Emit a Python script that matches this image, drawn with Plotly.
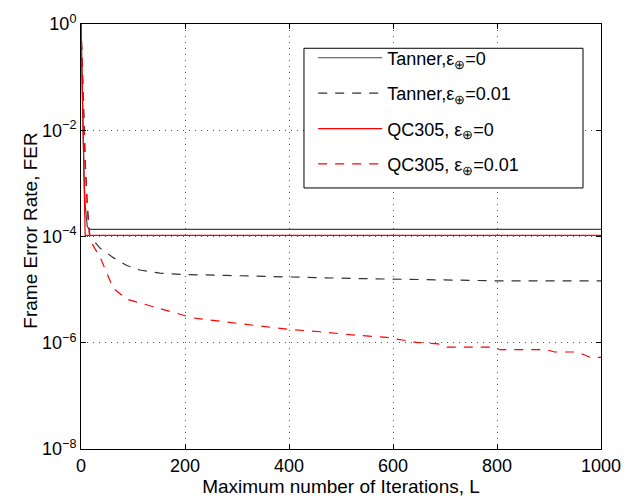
import plotly.graph_objects as go

# Frame error rate versus maximum number of decoding iterations
tanner_0_L = [0, 2, 4, 6, 8, 10, 12, 15, 20, 1000]
tanner_0_fer = [1.0, 0.1, 6e-3, 1.2e-3, 4e-4, 2e-4, 1.55e-4, 1.4e-4, 1.36e-4, 1.36e-4]

tanner_001_L = [0, 4, 8, 12, 17, 37, 62, 88, 113, 152, 196, 280, 402, 523, 650, 806, 1000]
tanner_001_fer = [1.0, 5e-2, 3e-3, 4e-4, 1e-4, 6e-5, 4e-5, 2.85e-5, 2.34e-5, 2.04e-5,
                  1.93e-5, 1.85e-5, 1.72e-5, 1.62e-5, 1.55e-5, 1.46e-5, 1.46e-5]

qc305_0_L = [0, 8, 1000]
qc305_0_fer = [1.0, 1.05e-4, 1.05e-4]

qc305_001_L = [0, 4, 8, 12, 17, 37, 62, 88, 113, 152, 184, 215, 280, 344, 396, 460, 517,
               588, 610, 645, 687, 703, 792, 806, 895, 911, 955, 979, 1000]
qc305_001_fer = [1.0, 4e-2, 2.5e-3, 3.5e-4, 8.6e-5, 4e-5, 1.06e-5, 6.6e-6, 5.6e-6, 4.35e-6,
                 3.55e-6, 2.94e-6, 2.45e-6, 2.04e-6, 1.8e-6, 1.61e-6, 1.42e-6,
                 1.26e-6, 1.17e-6, 1.02e-6, 9.5e-7, 8.3e-7, 8.3e-7, 7.4e-7, 7.4e-7,
                 6.7e-7, 6.7e-7, 5.3e-7, 5.3e-7]

x_ticks = [0, 200, 400, 600, 800, 1000]
y_tickvals = [1, 1e-2, 1e-4, 1e-6, 1e-8]
y_ticktext = ["10<sup>0</sup>", "10<sup>−2</sup>", "10<sup>−4</sup>",
              "10<sup>−6</sup>", "10<sup>−8</sup>"]

font_family = "Liberation Sans, Arial, sans-serif"
dash = "9px,8px"

series = [
    (tanner_0_L, tanner_0_fer, "Tanner,ε<sub>⊕</sub>=0", "#444444", "solid"),
    (tanner_001_L, tanner_001_fer, "Tanner,ε<sub>⊕</sub>=0.01", "#333333", dash),
    (qc305_0_L, qc305_0_fer, "QC305, ε<sub>⊕</sub>=0", "#ff0000", "solid"),
    (qc305_001_L, qc305_001_fer, "QC305, ε<sub>⊕</sub>=0.01", "#ff0000", dash),
]

fig = go.Figure()
for i, (xs, ys, label, color, style) in enumerate(series):
    fig.add_trace(go.Scatter(x=xs, y=ys, mode="lines", name=label,
                             legendgroup=f"g{i}",
                             line=dict(color=color, width=1.2, dash=style)))

axis_common = dict(
    showline=True, linecolor="black", linewidth=1, mirror="ticks",
    ticks="inside", ticklen=5, tickcolor="black",
    showgrid=True, gridcolor="#555555", gridwidth=1, griddash="1px,5px",
    zeroline=False,
    tickfont=dict(family=font_family, size=18, color="black"),
)

fig.update_layout(
    width=634, height=501,
    margin=dict(l=81, r=33, t=15, b=48),
    paper_bgcolor="white", plot_bgcolor="white",
    font=dict(family=font_family, size=18, color="black"),
    xaxis=dict(range=[0, 1000], tickvals=x_ticks,
               title=dict(text="Maximum number of Iterations, L", standoff=0,
                          font=dict(family=font_family, size=19)),
               **axis_common),
    yaxis=dict(type="log", range=[-8, 0], tickvals=y_tickvals, ticktext=y_ticktext,
               **axis_common),
    annotations=[dict(text="Frame Error Rate, FER", textangle=-90,
                      xref="paper", yref="paper", x=-0.0962, y=0.5137,
                      xanchor="center", yanchor="middle", showarrow=False,
                      font=dict(family=font_family, size=19, color="black"))],
    legend=dict(x=0.4465, y=0.9634, xanchor="left", yanchor="top",
                bgcolor="rgba(0,0,0,0)", borderwidth=0,
                itemwidth=64, traceorder="grouped", tracegroupgap=9,
                font=dict(family=font_family, size=18, color="black")),
    showlegend=True,
    shapes=[dict(type="rect", xref="paper", yref="paper",
                 x0=0.4288, x1=0.9654, y0=0.6142, y1=0.9429,
                 line=dict(color="black", width=1), fillcolor="white",
                 layer="above")],
)

fig.write_html("out.html")
